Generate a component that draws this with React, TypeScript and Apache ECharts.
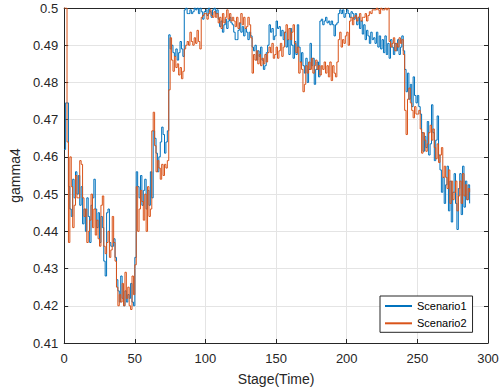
import React, { useEffect, useRef } from "react";
import * as echarts from "echarts";

const seriesNames = ["Scenario1", "Scenario2"];
const xTicks = { min: 0, max: 300, interval: 50 };
const yTicks = { min: 0.41, max: 0.5, interval: 0.01 };

const scenario1 = [
  0.462, 0.4745, 0.4745, 0.452, 0.446, 0.444, 0.454, 0.449, 0.456, 0.45,
  0.455, 0.447, 0.452, 0.442, 0.446, 0.44, 0.449, 0.444, 0.437, 0.447,
  0.449, 0.454, 0.446, 0.441, 0.445, 0.437, 0.444, 0.441, 0.432, 0.428,
  0.445, 0.446, 0.437, 0.436, 0.436, 0.438, 0.433, 0.427, 0.424, 0.421,
  0.428, 0.422, 0.42, 0.424, 0.421, 0.423, 0.422, 0.426, 0.421, 0.42,
  0.433, 0.456, 0.452, 0.449, 0.455, 0.447, 0.451, 0.454, 0.446, 0.451,
  0.447, 0.456, 0.449, 0.467, 0.465, 0.461, 0.456, 0.46, 0.464, 0.468,
  0.466, 0.461, 0.464, 0.467, 0.4928, 0.489, 0.49, 0.488, 0.487, 0.489,
  0.486, 0.488, 0.491, 0.489, 0.487, 0.4995, 0.5, 0.4985, 0.4985, 0.4995,
  0.4985, 0.499, 0.5, 0.4995, 0.5, 0.4985, 0.5, 0.499, 0.497, 0.499,
  0.4995, 0.498, 0.5, 0.499, 0.4975, 0.4995, 0.5, 0.4985, 0.4995, 0.497,
  0.495, 0.4965, 0.4935, 0.4955, 0.497, 0.4945, 0.4965, 0.4975, 0.496, 0.4955,
  0.4935, 0.4915, 0.4915, 0.494, 0.496, 0.4935, 0.495, 0.4925, 0.4945, 0.4935,
  0.4915, 0.4935, 0.4925, 0.4895, 0.4885, 0.49, 0.486, 0.4885, 0.487, 0.4895,
  0.486, 0.4835, 0.4845, 0.488, 0.49, 0.4955, 0.4935, 0.4945, 0.4915, 0.4925,
  0.4965, 0.4945, 0.495, 0.4925, 0.494, 0.4915, 0.4935, 0.4895, 0.4915, 0.4875,
  0.4945, 0.49, 0.4865, 0.491, 0.4875, 0.4955, 0.4895, 0.4855, 0.488, 0.4845,
  0.4825, 0.4865, 0.48, 0.4835, 0.4905, 0.4845, 0.4865, 0.4795, 0.4835, 0.4855,
  0.4815, 0.4965, 0.497, 0.4955, 0.4965, 0.4975, 0.496, 0.4965, 0.4955, 0.4965,
  0.4955, 0.4925, 0.4955, 0.496, 0.4985, 0.4995, 0.4985, 0.4995, 0.4975, 0.4985,
  0.4995, 0.4985, 0.4975, 0.499, 0.4985, 0.497, 0.4985, 0.4955, 0.4975, 0.4945,
  0.4965, 0.493, 0.4955, 0.4915, 0.494, 0.4925, 0.4905, 0.4935, 0.4915, 0.492,
  0.4905, 0.4935, 0.4895, 0.4925, 0.489, 0.4915, 0.488, 0.4925, 0.4875, 0.4905,
  0.4865, 0.4915, 0.4895, 0.4875, 0.4905, 0.4885, 0.4915, 0.4875, 0.4895, 0.4925,
  0.4885, 0.4835, 0.4775, 0.4825, 0.4755, 0.4795, 0.4735, 0.4815, 0.4765, 0.4745,
  0.4765, 0.4735, 0.4715, 0.4665, 0.4615, 0.4655, 0.4625, 0.4695, 0.4605, 0.4635,
  0.474, 0.4665, 0.459, 0.4645, 0.471, 0.4605, 0.4565, 0.4505, 0.4545, 0.4475,
  0.4525, 0.4575, 0.4455, 0.4535, 0.4425, 0.4505, 0.4555, 0.4475, 0.4405, 0.4515,
  0.4555, 0.4445, 0.4575, 0.4465, 0.4535, 0.4485, 0.4525, 0.4475,
];

const scenario2 = [
  0.5, 0.5, 0.464, 0.437, 0.46, 0.452, 0.441, 0.447, 0.455, 0.449,
  0.449, 0.459, 0.458, 0.449, 0.444, 0.446, 0.437, 0.44, 0.443, 0.45,
  0.441, 0.446, 0.439, 0.443, 0.438, 0.436, 0.447, 0.4495, 0.436, 0.434,
  0.437, 0.44, 0.433, 0.435, 0.444, 0.437, 0.432, 0.425, 0.42, 0.423,
  0.421, 0.426, 0.42, 0.429, 0.422, 0.425, 0.42, 0.419, 0.428, 0.423,
  0.431, 0.452, 0.44, 0.446, 0.451, 0.448, 0.443, 0.45, 0.44, 0.452,
  0.444, 0.446, 0.467, 0.472, 0.463, 0.456, 0.459, 0.457, 0.454, 0.458,
  0.455, 0.458, 0.457, 0.459, 0.478, 0.492, 0.486, 0.483, 0.487, 0.484,
  0.485, 0.482, 0.484, 0.481, 0.483, 0.489, 0.49, 0.491, 0.49, 0.4935,
  0.491, 0.49, 0.492, 0.4905, 0.494, 0.491, 0.489, 0.4975, 0.498, 0.4985,
  0.4985, 0.497, 0.4985, 0.4995, 0.498, 0.4975, 0.499, 0.4975, 0.4985, 0.496,
  0.4975, 0.4945, 0.4985, 0.496, 0.4975, 0.4995, 0.497, 0.4985, 0.4965, 0.4975,
  0.4965, 0.495, 0.4975, 0.4945, 0.496, 0.4985, 0.4955, 0.4975, 0.4945, 0.495,
  0.4975, 0.4955, 0.492, 0.4825, 0.4875, 0.486, 0.4885, 0.485, 0.4875, 0.4845,
  0.4865, 0.485, 0.4875, 0.4855, 0.488, 0.4895, 0.488, 0.4905, 0.4865, 0.4875,
  0.4895, 0.4865, 0.4885, 0.4905, 0.487, 0.4895, 0.4935, 0.4955, 0.4915, 0.4945,
  0.4915, 0.4935, 0.4955, 0.4905, 0.488, 0.4895, 0.4825, 0.4855, 0.4835, 0.4775,
  0.4795, 0.4845, 0.4825, 0.4855, 0.4835, 0.4865, 0.4825, 0.4845, 0.486, 0.4835,
  0.4845, 0.482, 0.4845, 0.4835, 0.4855, 0.4825, 0.4845, 0.4815, 0.4855, 0.4805,
  0.4845, 0.4825, 0.4815, 0.4855, 0.4915, 0.4935, 0.4895, 0.4915, 0.4905, 0.4925,
  0.4935, 0.49, 0.4965, 0.4975, 0.4955, 0.4975, 0.498, 0.4965, 0.4975, 0.4985,
  0.4965, 0.4975, 0.4975, 0.4985, 0.4965, 0.498, 0.499, 0.4985, 0.4995, 0.4995,
  0.4995, 0.5, 0.4995, 0.4985, 0.5, 0.4995, 0.4995, 0.5, 0.4995, 0.5,
  0.491, 0.4895, 0.4905, 0.492, 0.4885, 0.4905, 0.4895, 0.492, 0.4905, 0.4915,
  0.4875, 0.4725, 0.466, 0.4755, 0.4785, 0.4745, 0.4725, 0.4705, 0.4735, 0.4715,
  0.4715, 0.4725, 0.4675, 0.461, 0.4665, 0.4645, 0.4615, 0.4635, 0.4665, 0.4685,
  0.4645, 0.4675, 0.4625, 0.4595, 0.4635, 0.4585, 0.4605, 0.4625, 0.4545, 0.4575,
  0.4545, 0.4515, 0.4565, 0.4475, 0.4535, 0.4485, 0.4505, 0.4535, 0.4455, 0.4495,
  0.4535, 0.4475, 0.4555, 0.4495, 0.4525, 0.4485, 0.4515, 0.4505,
];

const colors = ["#0072BD", "#D95319"];
const axisColor = "#262626";
const gridColor = "#e4e4e4";
const font = "Liberation Sans, Arial, Helvetica, sans-serif";

export default function App() {
  const ref = useRef<HTMLDivElement>(null);
  useEffect(() => {
    if (!ref.current) return;
    const chart = echarts.init(ref.current, undefined, { renderer: "svg" });
    const toPairs = (arr: number[]) => arr.map((v, i) => [i, v]);
    const yFmt = (v: number) => String(+v.toFixed(2));
    const baseX = {
      type: "value" as const,
      min: xTicks.min,
      max: xTicks.max,
      interval: xTicks.interval,
      axisLine: { show: true, onZero: false, lineStyle: { color: axisColor, width: 1 } },
      axisTick: { show: true, inside: true, length: 4, lineStyle: { color: axisColor } },
    };
    const baseY = {
      type: "value" as const,
      min: yTicks.min,
      max: yTicks.max,
      interval: yTicks.interval,
      axisLine: { show: true, onZero: false, lineStyle: { color: axisColor, width: 1 } },
      axisTick: { show: true, inside: true, length: 4, lineStyle: { color: axisColor } },
    };
    chart.setOption({
      animation: false,
      backgroundColor: "#ffffff",
      grid: { left: 61, right: 15, top: 8, bottom: 46, containLabel: false },
      xAxis: [
        {
          ...baseX,
          position: "bottom",
          name: "Stage(Time)",
          nameLocation: "middle",
          nameGap: 29,
          nameTextStyle: { color: axisColor, fontSize: 14, fontFamily: font },
          axisLabel: { color: axisColor, fontSize: 13, fontFamily: font, margin: 9 },
          splitLine: { show: true, lineStyle: { color: gridColor, width: 1 } },
        },
        {
          ...baseX,
          position: "top",
          axisLabel: { show: false },
          splitLine: { show: false },
        },
      ],
      yAxis: [
        {
          ...baseY,
          position: "left",
          name: "gamma4",
          nameLocation: "middle",
          nameGap: 36,
          nameTextStyle: { color: axisColor, fontSize: 14, fontFamily: font },
          axisLabel: { color: axisColor, fontSize: 13, fontFamily: font, margin: 6, formatter: yFmt },
          splitLine: { show: true, lineStyle: { color: gridColor, width: 1 } },
        },
        {
          ...baseY,
          position: "right",
          axisLabel: { show: false },
          splitLine: { show: false },
        },
      ],
      legend: {
        show: true,
        orient: "vertical",
        left: 380,
        top: 296,
        padding: [3, 6, 2, 5],
        icon: "rect",
        itemWidth: 27,
        itemHeight: 2,
        itemGap: 3.3,
        backgroundColor: "#ffffff",
        borderColor: axisColor,
        borderWidth: 1,
        borderRadius: 0,
        textStyle: { color: "#000000", fontSize: 11, lineHeight: 14, fontFamily: font },
        data: seriesNames,
      },
      series: [
        {
          name: seriesNames[0],
          type: "line",
          step: "end",
          symbol: "none",
          data: toPairs(scenario1),
          lineStyle: { color: colors[0], width: 1 },
          itemStyle: { color: colors[0] },
          clip: true,
        },
        {
          name: seriesNames[1],
          type: "line",
          step: "end",
          symbol: "none",
          data: toPairs(scenario2),
          lineStyle: { color: colors[1], width: 1 },
          itemStyle: { color: colors[1] },
          clip: true,
        },
      ],
    });
    return () => chart.dispose();
  }, []);
  return (
    <div
      ref={ref}
      style={{ position: "fixed", left: 0, top: 0, width: 503, height: 391 }}
    />
  );
}
